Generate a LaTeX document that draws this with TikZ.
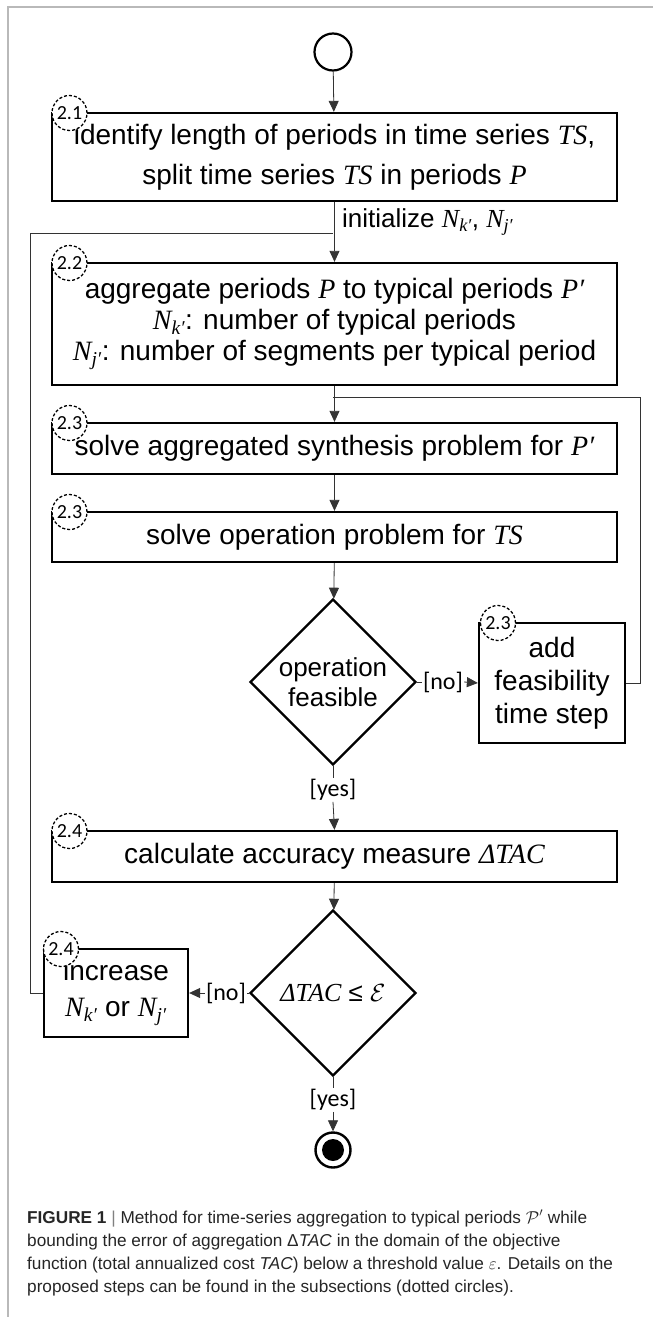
\documentclass[tikz,border=0pt]{standalone}
\usepackage{fontspec}
\usepackage{amsmath}
\setmainfont{Liberation Sans}
\newfontfamily\boxfont{Liberation Sans}
\newfontfamily\tms{Liberation Serif}
\newfontfamily\lblfont{Carlito}
\newfontfamily\capfont{Liberation Sans}
\usetikzlibrary{arrows.meta,shapes.geometric}
\newcommand{\mi}[1]{{\tms\itshape #1}}
\newcommand{\Nk}{\mi{N}\textsubscript{\mi{k′}}}
\newcommand{\Nj}{\mi{N}\textsubscript{\mi{j′}}}
\begin{document}
\begin{tikzpicture}[x=1pt,y=-1pt,
  stepbox/.style={draw, line width=2.3pt, align=center, inner sep=0pt,
    font=\boxfont\fontsize{28}{31}\selectfont},
  decision/.style={diamond, draw, line width=2.3pt, align=center, inner sep=0pt, aspect=1,
    minimum width=166pt, minimum height=166pt, font=\boxfont\fontsize{26}{30}\selectfont},
  sub/.style={circle, draw, densely dashed, line width=1.3pt, fill=white, minimum size=35pt,
    inner sep=0pt, font=\lblfont\fontsize{20}{20}\selectfont},
  lbl/.style={inner sep=1pt, font=\lblfont\fontsize{24}{24}\selectfont},
  plain/.style={line width=0.8pt, draw=black!80},
  conn/.style={line width=0.8pt, draw=black!80, -{Triangle[length=11pt,width=10pt]}}
]
\useasboundingbox (0,0) rectangle (653,1317);
\fill[white] (0,0) rectangle (653,1317);
\draw[gray!55, line width=1.5pt] (8,1317) -- (8,7) -- (653,7);

% nodes
\node[circle, draw, line width=2.2pt, minimum size=37pt, inner sep=0pt] (start) at (333,52) {};
\node[stepbox, minimum width=565pt, minimum height=88pt,
  font=\boxfont\fontsize{28}{40}\selectfont] (b1) at (334.5,157)
  {identify length of periods in time series \mi{TS},\\ split time series \mi{TS} in periods \mi{P}};
\node[stepbox, minimum width=565pt, minimum height=122pt] (b2) at (334.5,324)
  {aggregate periods \mi{P} to typical periods \mi{P′}\\ \Nk: number of typical periods\\ \Nj: number of segments per typical period};
\node[stepbox, minimum width=565pt, minimum height=51pt] (b3) at (334.5,448.5)
  {solve aggregated synthesis problem for \mi{P′}};
\node[stepbox, minimum width=565pt, minimum height=50pt] (b4) at (334.5,537)
  {solve operation problem for \mi{TS}};
\node[decision] (d1) at (333,682) {operation\\ feasible};
\node[stepbox, minimum width=146pt, minimum height=120pt,
  font=\boxfont\fontsize{28}{33}\selectfont] (add) at (552,683)
  {add\\ feasibility\\ time step};
\node[stepbox, minimum width=565pt, minimum height=51pt] (b5) at (334.5,856.5)
  {calculate accuracy measure \mi{ΔTAC}};
\node[decision] (d2) at (333,993) {\mi{ΔTAC} ≤ $\mathcal{E}$};
\node[stepbox, minimum width=144pt, minimum height=88pt, font=\boxfont\fontsize{28}{36}\selectfont] (inc) at (116,993)
  {increase\\ \Nk{} or \Nj};
\node[circle, draw, line width=2.4pt, minimum size=35pt, inner sep=0pt] (end) at (333,1150) {};
\fill (end.center) circle (11pt);

% sub-section markers
\node[sub] (c21) at (69.5,113) {2.1};
\node[sub] (c22) at (69.5,263) {2.2};
\node[sub] (c23a) at (69.5,423) {2.3};
\node[sub] (c23b) at (69.5,512) {2.3};
\node[sub] (c23c) at (498,623) {2.3};
\node[sub] (c24a) at (69.5,831) {2.4};
\node[sub] (c24b) at (61,949) {2.4};

% labels
\node[anchor=west, inner sep=0pt, font=\boxfont\fontsize{26}{26}\selectfont] (init) at (342,222) {initialize \Nk, \Nj};
\node[lbl] (no1) at (443,682) {[no]};
\node[lbl] (yes1) at (333,790) {[yes]};
\node[lbl] (no2) at (226,993) {[no]};
\node[lbl] (yes2) at (333,1100) {[yes]};

% connectors
\coordinate (j1) at (333,233);
\coordinate (j2) at (333,397);
\coordinate (l1) at (30,993);
\coordinate (r1) at (640,683);
\draw[conn] (start) -- (b1);
\draw[conn] (b1) -- (b2);
\draw[plain] (inc.west) -- (l1) |- (j1);
\draw[conn] (b2) -- (b3);
\draw[plain] (add.east) -- (r1) |- (j2);
\draw[conn] (b3) -- (b4);
\draw[conn] (b4) -- (d1);
\draw[plain] (d1.east) -- (no1.west);
\draw[conn] (no1.east) -- (add.west);
\draw[plain] (d1.south) -- (yes1.north);
\draw[conn] (yes1.south) -- (b5.north);
\draw[conn] (b5) -- (d2);
\draw[plain] (d2.west) -- (no2.east);
\draw[conn] (no2.west) -- (inc.east);
\draw[plain] (d2.south) -- (yes2.north);
\draw[conn] (yes2.south) -- (end.north);

% caption
\node[anchor=north west, align=left, inner sep=0pt, text=black!85,
  font=\capfont\fontsize{17.2}{23}\selectfont] (cap) at (27,1210)
  {\textbf{FIGURE 1} {\color{black!50}|} Method for time-series aggregation to typical periods $\mathcal{P}'$ while\\
   bounding the error of aggregation Δ\textit{TAC} in the domain of the objective\\
   function (total annualized cost \textit{TAC}) below a threshold value $\varepsilon$. Details on the\\
   proposed steps can be found in the subsections (dotted circles).};
\end{tikzpicture}
\end{document}
